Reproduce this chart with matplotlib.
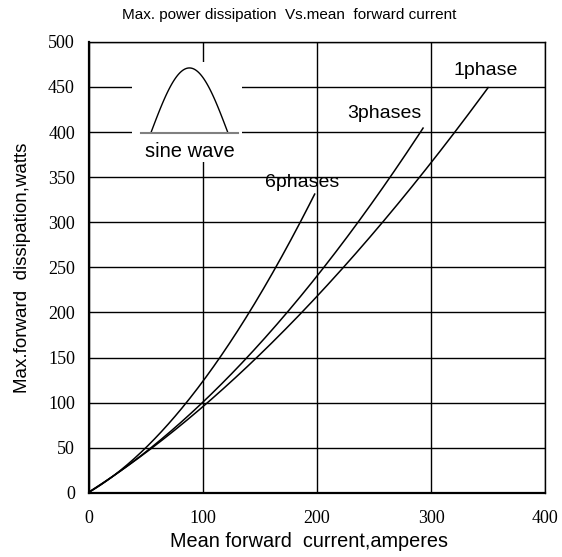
import numpy as np
import matplotlib
matplotlib.use("Agg")
import matplotlib.pyplot as plt
from matplotlib.patches import Rectangle

# 读图得到的曲线点 (电流 A, 功耗 W)
i_1phase = [0, 25, 53, 100, 148, 189, 200, 220, 257, 290, 300, 322, 350]
p_1phase = [0, 22, 50, 95, 150, 200, 217, 250, 300, 350, 366, 400, 450]

i_3phase = [0, 25, 53, 100, 137, 175, 200, 205, 236, 264, 293]
p_3phase = [0, 22, 50, 100, 147, 201, 240, 250, 300, 350, 404]

i_6phase = [0, 25, 49, 84, 100, 115, 141, 163, 185, 198]
p_6phase = [0, 23, 50, 97, 123, 150, 200, 250, 300, 330]

curve_labels = ["1phase", "3phases", "6phases"]
label_pos = [(348, 468), (259, 421), (187, 344)]

xticks = [0, 100, 200, 300, 400]
yticks = list(range(0, 501, 50))

fig = plt.figure(figsize=(5.62, 5.57), dpi=100)
ax = fig.add_axes([0.158, 0.115, 0.812, 0.81])

sans = ["Liberation Sans", "DejaVu Sans"]
serif = ["Liberation Serif", "DejaVu Serif"]

for xs, ys in [(i_1phase, p_1phase), (i_3phase, p_3phase), (i_6phase, p_6phase)]:
    # 平滑一下曲线
    xx = np.linspace(0, xs[-1], 200)
    c = np.polyfit(xs, ys, 3)
    yy = np.polyval(c, xx)
    yy[0] = 0
    ax.plot(xx, yy, color="black", lw=1.1, zorder=3)

for t, (x, y) in zip(curve_labels, label_pos):
    ax.text(x, y, t, ha="center", va="center", fontsize=14, family=sans, zorder=4)

# 正弦波小图
ax.add_patch(Rectangle((38, 367), 96, 111, facecolor="white", edgecolor="none", zorder=2))
sx = np.linspace(54.4, 122, 100)
sy = 399 + 72 * np.sin(np.pi * (sx - 54.4) / (122 - 54.4))
ax.plot(sx, sy, color="black", lw=1.0, zorder=3)
ax.plot([45.6, 130.7], [399, 399], color="gray", lw=1.5, zorder=3)
ax.text(88.6, 378, "sine wave", ha="center", va="center", fontsize=14.5, family=sans, zorder=4)

ax.set_xlim(0, 400)
ax.set_ylim(0, 500)
ax.set_xticks(xticks)
ax.set_yticks(yticks)
ax.set_xticklabels([str(v) for v in xticks], family=serif, fontsize=13)
ax.set_yticklabels([str(v) for v in yticks], family=serif, fontsize=13)
ax.tick_params(axis="x", length=0, pad=12)
ax.tick_params(axis="y", length=0, pad=10)

ax.xaxis.grid(True, color="black", lw=1.0)
ax.yaxis.grid(True, color="black", lw=1.0)
for s in ["left", "bottom"]:
    ax.spines[s].set_linewidth(1.6)
for s in ["top", "right"]:
    ax.spines[s].set_linewidth(1.0)

ax.set_xlabel("Mean forward  current,amperes", family=sans, fontsize=14.3, labelpad=4)
ax.xaxis.label.set_x(0.483)
ax.set_ylabel("Max.forward  dissipation,watts", family=sans, fontsize=13.5, labelpad=12)
fig.text(0.514, 0.973, "Max. power dissipation  Vs.mean  forward current",
         family=["Liberation Sans Narrow", "Liberation Sans"], fontsize=11,
         ha="center", va="center")

plt.savefig("out.png", dpi=100)
